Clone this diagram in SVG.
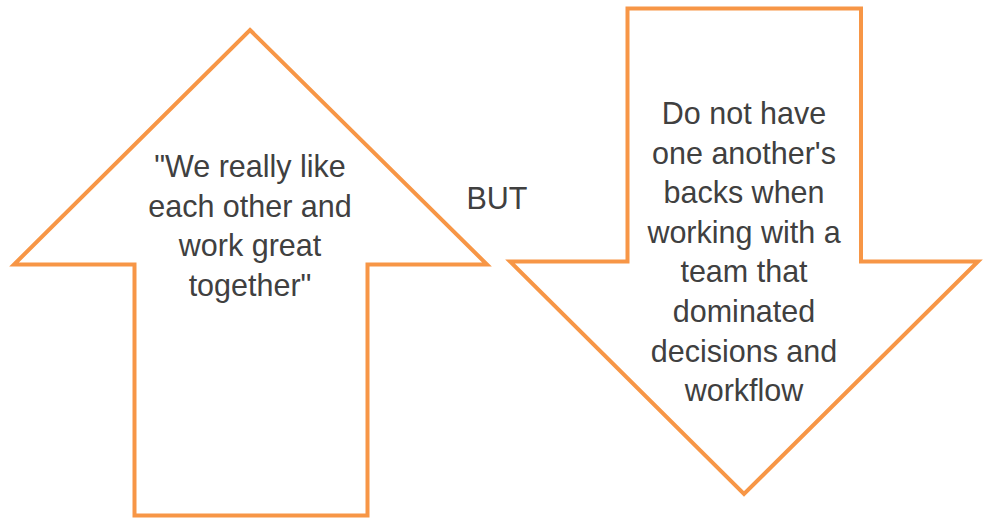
<svg xmlns="http://www.w3.org/2000/svg" width="988" height="518" viewBox="0 0 988 518">
<style>
.arrow{fill:#FFFFFF;stroke:#F79646;stroke-width:4;stroke-linejoin:miter;stroke-miterlimit:10}
.t{font-family:"Liberation Sans",Arial,sans-serif;font-size:30.5px;fill:#404040;text-anchor:middle}
</style>
<rect width="988" height="518" fill="#FFFFFF"/>
<g id="up-arrow">
<polygon class="arrow" points="250,30 487,264.5 367.5,264.5 367.5,515.5 134.5,515.5 134.5,264.5 14,264.5"/>
<text class="t" x="250" y="177">"We really like</text>
<text class="t" x="250" y="216.6">each other and</text>
<text class="t" x="250" y="256.2">work great</text>
<text class="t" x="250" y="295.8">together"</text>
</g>
<g id="but">
<text class="t" x="497" y="209">BUT</text>
</g>
<g id="down-arrow">
<polygon class="arrow" points="627.5,8.5 861,8.5 861,261.5 978,261.5 744,494 510,261.5 627.5,261.5"/>
<text class="t" x="744" y="124">Do not have</text>
<text class="t" x="744" y="163.6">one another's</text>
<text class="t" x="744" y="203.2">backs when</text>
<text class="t" x="744" y="242.8">working with a</text>
<text class="t" x="744" y="282.4">team that</text>
<text class="t" x="744" y="322">dominated</text>
<text class="t" x="744" y="361.6">decisions and</text>
<text class="t" x="744" y="401.2">workflow</text>
</g>
<g id="connectors"></g>
</svg>
